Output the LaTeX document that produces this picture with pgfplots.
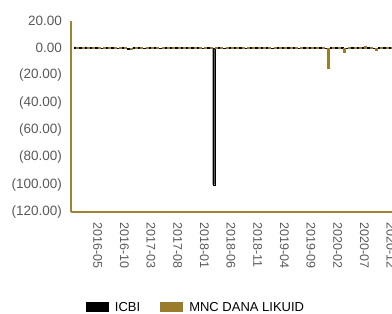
\documentclass[border=0pt]{standalone}
\usepackage{pgfplots}
\pgfplotsset{compat=1.18}
\usepackage{fontspec}
\setmainfont{Liberation Sans}
\definecolor{gold}{RGB}{160,130,52}
\definecolor{mncgold}{RGB}{155,124,42}
\definecolor{ticktext}{RGB}{89,89,89}
\begin{document}
\begin{tikzpicture}
\path[use as bounding box, clip] (0pt,0pt) rectangle (392pt,-314pt);
\begin{axis}[
  at={(71pt,-212pt)}, anchor=south west,
  scale only axis,
  width=336pt, height=191.3pt,
  xmin=-1, xmax=62,
  ymin=-120, ymax=20,
  ybar=0.6pt, bar width=2pt,
  axis x line*=bottom, axis y line*=left,
  axis line style={-, draw=gold, line width=2pt},
  major tick length=0pt,
  ytick={-120,-100,-80,-60,-40,-20,0,20},
  yticklabels={{(120.00)},{(100.00)},{(80.00)},{(60.00)},{(40.00)},{(20.00)},{0.00},{20.00}},
  yticklabel style={anchor=east, inner sep=0pt, xshift=-9pt, text=ticktext, font=\fontsize{13.5pt}{16pt}\selectfont},
  xtick={4,9,14,19,24,29,34,39,44,49,54,59},
  xticklabels={2016-05,2016-10,2017-03,2017-08,2018-01,2018-06,2018-11,2019-04,2019-09,2020-02,2020-07,2020-12},
  xticklabel style={yshift=-10pt, rotate=-90, anchor=west, inner sep=0pt, text=ticktext, font=\fontsize{12.5pt}{15pt}\selectfont},
  legend columns=2,
  legend style={draw=none, fill=none, inner sep=0pt, outer sep=0pt,
    at={(0.0446,-0.4982)}, anchor=west,
    font=\fontsize{13pt}{15pt}\selectfont,
    nodes={inner sep=0pt, text=black},
    /tikz/every odd column/.append style={column sep=6pt},
    /tikz/every even column/.append style={column sep=20pt}},
  legend image code/.code={\path[#1, draw=none] (0pt,-5pt) rectangle (23pt,5pt);},
]
\addplot[fill=black, draw=black, line width=0.3pt] coordinates {
(0,0.8) (1,0.6) (2,0.9) (3,0.5) (4,0.4) (5,-0.3) (6,0.3) (7,0.4) (8,-0.4) (9,0.3)
(10,-0.5) (11,0.3) (12,0.4) (13,-0.3) (14,0.3) (15,0.3) (16,-0.4) (17,0.3) (18,0.4) (19,0.3)
(20,0.5) (21,0.6) (22,0.3) (23,0.4) (24,-0.3) (25,0.3) (26,-100) (27,0.3) (28,-0.3) (29,0.4)
(30,0.3) (31,0.3) (32,-0.3) (33,0.4) (34,0.3) (35,0.3) (36,0.4) (37,-0.3) (38,0.3) (39,0.3)
(40,0.4) (41,0.3) (42,-0.3) (43,0.3) (44,0.4) (45,0.3) (46,0.3) (47,-0.4) (48,0.3) (49,0.3)
(50,0.4) (51,-0.3) (52,0.3) (53,0.4) (54,0.3) (55,0.3) (56,-0.3) (57,0.4) (58,0.3) (59,0.3)
(60,0.4) (61,0.3)
};
\addlegendentry{ICBI}
\addplot[fill=mncgold, draw=mncgold, line width=0.3pt] coordinates {
(0,0.5) (1,0.4) (2,0.5) (3,0.4) (4,0.4) (5,0.3) (6,0.4) (7,0.3) (8,0.4) (9,0.3)
(10,-0.9) (11,0.4) (12,0.3) (13,0.4) (14,0.3) (15,0.4) (16,0.3) (17,0.4) (18,0.3) (19,0.4)
(20,0.3) (21,0.7) (22,0.4) (23,0.3) (24,0.4) (25,0.3) (26,0.4) (27,0.3) (28,0.4) (29,0.3)
(30,0.4) (31,0.3) (32,0.4) (33,0.3) (34,0.4) (35,0.3) (36,0.4) (37,0.3) (38,0.4) (39,0.3)
(40,0.4) (41,0.3) (42,0.4) (43,0.3) (44,0.4) (45,0.3) (46,0.4) (47,-14.5) (48,0.8) (49,0.4)
(50,-3.2) (51,0.4) (52,0.5) (53,0.4) (54,1.3) (55,0.4) (56,-1.3) (57,0.4) (58,0.5) (59,0.4)
(60,0.4) (61,0.3)
};
\addlegendentry{MNC DANA LIKUID}
\end{axis}
\end{tikzpicture}
\end{document}
